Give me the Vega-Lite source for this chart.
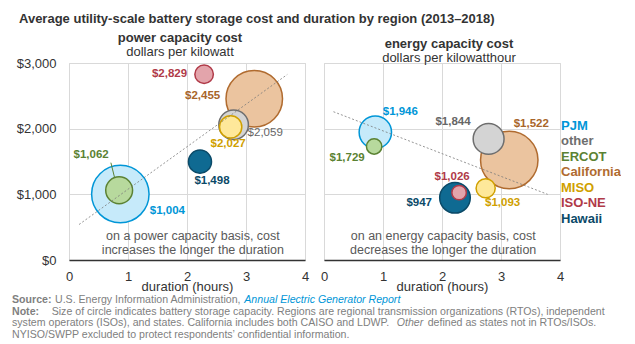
{
  "$schema": "https://vega.github.io/schema/vega-lite/v6.json",
  "background": "white",
  "padding": {"left": 12, "top": 12, "right": 0, "bottom": 0},
  "title": {"text": "Average utility-scale battery storage cost and duration by region (2013–2018)", "anchor": "start", "fontSize": 13, "font": "Liberation Sans", "fontWeight": "bold", "color": "#333333", "offset": 6, "dx": 7},
  "datasets": {
    "regions": [
      {"region": "PJM", "duration": 0.87, "kw": 1004, "kwh": 1946, "mw": 279, "mwh": 275},
      {"region": "other", "duration": 2.79, "kw": 2059, "kwh": 1844, "mw": 74, "mwh": 250},
      {"region": "ERCOT", "duration": 0.85, "kw": 1062, "kwh": 1729, "mw": 61, "mwh": 62},
      {"region": "California", "duration": 3.14, "kw": 2455, "kwh": 1522, "mw": 270, "mwh": 865},
      {"region": "MISO", "duration": 2.74, "kw": 2027, "kwh": 1093, "mw": 42, "mwh": 96},
      {"region": "ISO-NE", "duration": 2.29, "kw": 2829, "kwh": 1026, "mw": 29, "mwh": 55},
      {"region": "Hawaii", "duration": 2.22, "kw": 1498, "kwh": 947, "mw": 45, "mwh": 245}
    ],
    "lines": [
      {"panel": "power", "kind": "trend", "x1": 0.17, "y1": 540, "x2": 3.70, "y2": 2825},
      {"panel": "energy", "kind": "trend", "x1": 0.16, "y1": 2258, "x2": 3.79, "y2": 1000},
      {"panel": "power", "kind": "leader", "x1": 0.71, "y1": 1482, "x2": 0.77, "y2": 1264}
    ],
    "footer": [
      {"line": 1, "seg": "a", "text": "Source:"},
      {"line": 1, "seg": "b1", "text": "U.S. Energy Information Administration,"},
      {"line": 1, "seg": "c", "text": "Annual Electric Generator Report"},
      {"line": 2, "seg": "a", "text": "Note:"},
      {"line": 2, "seg": "b2", "text": "Size of circle indicates battery storage capacity. Regions are regional transmission organizations (RTOs), independent"},
      {"line": 3, "seg": "d", "text": "system operators (ISOs), and states. California includes both CAISO and LDWP."},
      {"line": 3, "seg": "e", "text": "Other"},
      {"line": 3, "seg": "f", "text": "defined as states not in RTOs/ISOs."},
      {"line": 4, "seg": "d", "text": "NYISO/SWPP excluded to protect respondents’ confidential information."}
    ]
  },
  "vconcat": [
    {
      "hconcat": [
        {
          "width": 236, "height": 197,
          "title": {"text": "power capacity cost", "subtitle": "dollars per kilowatt", "dx": -7},
          "layer": [
            {
              "data": {"name": "regions"},
              "mark": {"type": "circle", "opacity": 1, "strokeWidth": 1.5},
              "encoding": {
                "x": {"field": "duration", "type": "quantitative", "scale": {"domain": [0, 4], "nice": false}, "axis": {"values": [0, 1, 2, 3, 4], "format": "d", "title": "duration (hours)"}},
                "y": {"field": "kw", "type": "quantitative", "scale": {"domain": [0, 3000], "nice": false}, "axis": {"values": [0, 1000, 2000, 3000], "format": "$,.0f", "title": null}},
                "size": {"field": "mw", "type": "quantitative", "scale": {"zero": true, "range": [0, 3300]}, "legend": null},
                "fill": {"field": "region", "type": "nominal", "scale": {"domain": ["PJM", "other", "ERCOT", "California", "MISO", "ISO-NE", "Hawaii"], "range": ["#c6eafa", "#d4d4d4", "#b7d99d", "#ebc49f", "#fee89a", "#e3a4ab", "#0f6a92"]},
                  "legend": {"orient": "none", "legendX": 479, "legendY": 56, "title": null, "symbolSize": 0, "symbolOpacity": 0, "symbolStrokeWidth": 0, "symbolFillColor": "transparent", "labelOffset": 0, "labelFontSize": 13, "labelFont": "Liberation Sans", "labelFontWeight": "bold", "rowPadding": 1.5, "labelLimit": 0,
                    "encode": {"labels": {"update": {"fill": {"scale": "stroke", "field": "value"}}}}}},
                "stroke": {"field": "region", "type": "nominal", "scale": {"domain": ["PJM", "other", "ERCOT", "California", "MISO", "ISO-NE", "Hawaii"], "range": ["#0096d7", "#6e6e6e", "#5b8233", "#b06b2f", "#d0a000", "#b03a48", "#0b4a68"]}, "legend": null},
                "order": {"field": "mw", "sort": "descending"}
              }
            },
            {
              "data": {"name": "lines"},
              "transform": [{"filter": "datum.panel == 'power' && datum.kind == 'trend'"}],
              "mark": {"type": "rule", "color": "#7a7a7a", "strokeWidth": 0.8, "strokeDash": [2, 2]},
              "encoding": {"x": {"field": "x1", "type": "quantitative"}, "y": {"field": "y1", "type": "quantitative"}, "x2": {"field": "x2"}, "y2": {"field": "y2"}}
            },
            {
              "data": {"name": "lines"},
              "transform": [{"filter": "datum.panel == 'power' && datum.kind == 'leader'"}],
              "mark": {"type": "rule", "color": "#5b8233", "strokeWidth": 1},
              "encoding": {"x": {"field": "x1", "type": "quantitative"}, "y": {"field": "y1", "type": "quantitative"}, "x2": {"field": "x2"}, "y2": {"field": "y2"}}
            },
            {
              "data": {"values": [{}]},
              "mark": {"type": "text", "text": ["on a power capacity basis, cost", "increases the longer the duration"], "fontSize": 12.5, "font": "Liberation Sans", "fontWeight": "normal", "color": "#595959", "lineHeight": 14, "baseline": "middle", "align": "center"},
              "encoding": {"x": {"datum": 2.1, "type": "quantitative"}, "y": {"datum": 370, "type": "quantitative"}}
            },
            {"data": {"name": "regions"}, "transform": [{"filter": "datum.region == 'ISO-NE'"}], "mark": {"type": "text", "align": "right", "dx": -17, "dy": 0, "color": "#b03a48"}, "encoding": {"x": {"field": "duration", "type": "quantitative"}, "y": {"field": "kw", "type": "quantitative"}, "text": {"field": "kw", "format": "$,.0f"}}},
            {"data": {"name": "regions"}, "transform": [{"filter": "datum.region == 'California'"}], "mark": {"type": "text", "align": "right", "dx": -34, "dy": -3, "color": "#a8652a"}, "encoding": {"x": {"field": "duration", "type": "quantitative"}, "y": {"field": "kw", "type": "quantitative"}, "text": {"field": "kw", "format": "$,.0f"}}},
            {"data": {"name": "regions"}, "transform": [{"filter": "datum.region == 'other'"}], "mark": {"type": "text", "align": "left", "dx": 14, "dy": 8, "color": "#666666", "fontWeight": "normal"}, "encoding": {"x": {"field": "duration", "type": "quantitative"}, "y": {"field": "kw", "type": "quantitative"}, "text": {"field": "kw", "format": "$,.0f"}}},
            {"data": {"name": "regions"}, "transform": [{"filter": "datum.region == 'MISO'"}], "mark": {"type": "text", "align": "center", "dx": -2.5, "dy": 17, "color": "#d0a000"}, "encoding": {"x": {"field": "duration", "type": "quantitative"}, "y": {"field": "kw", "type": "quantitative"}, "text": {"field": "kw", "format": "$,.0f"}}},
            {"data": {"name": "regions"}, "transform": [{"filter": "datum.region == 'Hawaii'"}], "mark": {"type": "text", "align": "center", "dx": 12, "dy": 19.5, "color": "#0b4a68"}, "encoding": {"x": {"field": "duration", "type": "quantitative"}, "y": {"field": "kw", "type": "quantitative"}, "text": {"field": "kw", "format": "$,.0f"}}},
            {"data": {"name": "regions"}, "transform": [{"filter": "datum.region == 'ERCOT'"}], "mark": {"type": "text", "align": "center", "dx": -28, "dy": -35, "color": "#5b8233"}, "encoding": {"x": {"field": "duration", "type": "quantitative"}, "y": {"field": "kw", "type": "quantitative"}, "text": {"field": "kw", "format": "$,.0f"}}},
            {"data": {"name": "regions"}, "transform": [{"filter": "datum.region == 'PJM'"}], "mark": {"type": "text", "align": "left", "dx": 29.5, "dy": 17, "color": "#0096d7"}, "encoding": {"x": {"field": "duration", "type": "quantitative"}, "y": {"field": "kw", "type": "quantitative"}, "text": {"field": "kw", "format": "$,.0f"}}}
          ]
        },
        {
          "width": 236, "height": 197,
          "title": {"text": "energy capacity cost", "subtitle": "dollars per kilowatthour", "dx": 7},
          "layer": [
            {
              "data": {"name": "regions"},
              "mark": {"type": "circle", "opacity": 1, "strokeWidth": 1.5},
              "encoding": {
                "x": {"field": "duration", "type": "quantitative", "scale": {"domain": [0, 4], "nice": false}, "axis": {"values": [0, 1, 2, 3, 4], "format": "d", "title": "duration (hours)"}},
                "y": {"field": "kwh", "type": "quantitative", "scale": {"domain": [0, 3000], "nice": false}, "axis": {"values": [0, 1000, 2000, 3000], "labels": false, "labelPadding": 0, "title": null}},
                "size": {"field": "mwh", "type": "quantitative", "scale": {"zero": true, "range": [0, 3300]}, "legend": null},
                "fill": {"field": "region", "type": "nominal"},
                "stroke": {"field": "region", "type": "nominal", "legend": null},
                "order": {"field": "mwh", "sort": "descending"}
              }
            },
            {
              "data": {"name": "lines"},
              "transform": [{"filter": "datum.panel == 'energy' && datum.kind == 'trend'"}],
              "mark": {"type": "rule", "color": "#7a7a7a", "strokeWidth": 0.8, "strokeDash": [2, 2]},
              "encoding": {"x": {"field": "x1", "type": "quantitative"}, "y": {"field": "y1", "type": "quantitative"}, "x2": {"field": "x2"}, "y2": {"field": "y2"}}
            },
            {
              "data": {"values": [{}]},
              "mark": {"type": "text", "text": ["on an energy capacity basis, cost", "decreases the longer the duration"], "fontSize": 12.5, "font": "Liberation Sans", "fontWeight": "normal", "color": "#595959", "lineHeight": 14, "baseline": "middle", "align": "center"},
              "encoding": {"x": {"datum": 2.02, "type": "quantitative"}, "y": {"datum": 365, "type": "quantitative"}}
            },
            {"data": {"name": "regions"}, "transform": [{"filter": "datum.region == 'PJM'"}], "mark": {"type": "text", "align": "center", "dx": 25, "dy": -20, "color": "#0096d7"}, "encoding": {"x": {"field": "duration", "type": "quantitative"}, "y": {"field": "kwh", "type": "quantitative"}, "text": {"field": "kwh", "format": "$,.0f"}}},
            {"data": {"name": "regions"}, "transform": [{"filter": "datum.region == 'ERCOT'"}], "mark": {"type": "text", "align": "center", "dx": -27, "dy": 12, "color": "#5b8233"}, "encoding": {"x": {"field": "duration", "type": "quantitative"}, "y": {"field": "kwh", "type": "quantitative"}, "text": {"field": "kwh", "format": "$,.0f"}}},
            {"data": {"name": "regions"}, "transform": [{"filter": "datum.region == 'other'"}], "mark": {"type": "text", "align": "right", "dx": -18, "dy": -17, "color": "#666666"}, "encoding": {"x": {"field": "duration", "type": "quantitative"}, "y": {"field": "kwh", "type": "quantitative"}, "text": {"field": "kwh", "format": "$,.0f"}}},
            {"data": {"name": "regions"}, "transform": [{"filter": "datum.region == 'California'"}], "mark": {"type": "text", "align": "center", "dx": 22, "dy": -36, "color": "#a8652a"}, "encoding": {"x": {"field": "duration", "type": "quantitative"}, "y": {"field": "kwh", "type": "quantitative"}, "text": {"field": "kwh", "format": "$,.0f"}}},
            {"data": {"name": "regions"}, "transform": [{"filter": "datum.region == 'ISO-NE'"}], "mark": {"type": "text", "align": "center", "dx": -7, "dy": -16, "color": "#b03a48"}, "encoding": {"x": {"field": "duration", "type": "quantitative"}, "y": {"field": "kwh", "type": "quantitative"}, "text": {"field": "kwh", "format": "$,.0f"}}},
            {"data": {"name": "regions"}, "transform": [{"filter": "datum.region == 'Hawaii'"}], "mark": {"type": "text", "align": "right", "dx": -23, "dy": 5.5, "color": "#0b4a68"}, "encoding": {"x": {"field": "duration", "type": "quantitative"}, "y": {"field": "kwh", "type": "quantitative"}, "text": {"field": "kwh", "format": "$,.0f"}}},
            {"data": {"name": "regions"}, "transform": [{"filter": "datum.region == 'MISO'"}], "mark": {"type": "text", "align": "center", "dx": 17, "dy": 15, "color": "#d0a000"}, "encoding": {"x": {"field": "duration", "type": "quantitative"}, "y": {"field": "kwh", "type": "quantitative"}, "text": {"field": "kwh", "format": "$,.0f"}}}
          ]
        }
      ],
      "spacing": 9,
      "resolve": {"scale": {"size": "independent", "fill": "shared", "stroke": "shared"}}
    },
    {
      "width": 500, "height": 47,
      "view": {"stroke": null},
      "data": {"name": "footer"},
      "encoding": {
        "x": {"datum": 0, "type": "quantitative", "scale": {"domain": [0, 1]}, "axis": null},
        "y": {"field": "line", "type": "ordinal", "scale": {"type": "point", "padding": 0.5}, "axis": null},
        "text": {"field": "text"}
      },
      "layer": [
        {"transform": [{"filter": "datum.seg == 'a'"}], "mark": {"type": "text", "align": "left", "baseline": "middle", "fontSize": 10.6, "font": "Liberation Sans", "fontWeight": "bold", "color": "#808080", "dx": -57}},
        {"transform": [{"filter": "datum.seg == 'b1'"}], "mark": {"type": "text", "align": "left", "baseline": "middle", "fontSize": 10.6, "font": "Liberation Sans", "fontWeight": "normal", "color": "#808080", "dx": -14}},
        {"transform": [{"filter": "datum.seg == 'c'"}], "mark": {"type": "text", "align": "left", "baseline": "middle", "fontSize": 10.6, "font": "Liberation Sans", "fontWeight": "normal", "fontStyle": "italic", "color": "#0096d7", "dx": 175.3}},
        {"transform": [{"filter": "datum.seg == 'b2'"}], "mark": {"type": "text", "align": "left", "baseline": "middle", "fontSize": 10.6, "font": "Liberation Sans", "fontWeight": "normal", "color": "#808080", "dx": -17.3}},
        {"transform": [{"filter": "datum.seg == 'd'"}], "mark": {"type": "text", "align": "left", "baseline": "middle", "fontSize": 10.6, "font": "Liberation Sans", "fontWeight": "normal", "color": "#808080", "dx": -57}},
        {"transform": [{"filter": "datum.seg == 'e'"}], "mark": {"type": "text", "align": "left", "baseline": "middle", "fontSize": 10.6, "font": "Liberation Sans", "fontWeight": "normal", "fontStyle": "italic", "color": "#808080", "dx": 327.7}},
        {"transform": [{"filter": "datum.seg == 'f'"}], "mark": {"type": "text", "align": "left", "baseline": "middle", "fontSize": 10.6, "font": "Liberation Sans", "fontWeight": "normal", "color": "#808080", "dx": 358.7}}
      ]
    }
  ],
  "spacing": 0,
  "config": {
    "font": "Liberation Sans",
    "view": {"stroke": "#d9d9d9"},
    "text": {"font": "Liberation Sans", "fontSize": 11.5, "fontWeight": "bold", "baseline": "middle"},
    "title": {"fontSize": 13, "font": "Liberation Sans", "fontWeight": "bold", "color": "#333333", "subtitleFont": "Liberation Sans", "subtitleFontSize": 13, "subtitleColor": "#333333", "subtitlePadding": 1, "offset": -2, "anchor": "middle"},
    "axis": {"grid": true, "gridColor": "#d9d9d9", "ticks": false, "labelFlush": false, "labelFont": "Liberation Sans", "labelFontSize": 13, "labelColor": "#333333", "titleFont": "Liberation Sans", "titleFontSize": 13, "titleFontWeight": "normal", "titleColor": "#333333"},
    "axisX": {"domainColor": "#333333", "domainWidth": 1.5, "labelPadding": 10, "titlePadding": -3},
    "axisY": {"domain": false, "labelPadding": 13}
  }
}
